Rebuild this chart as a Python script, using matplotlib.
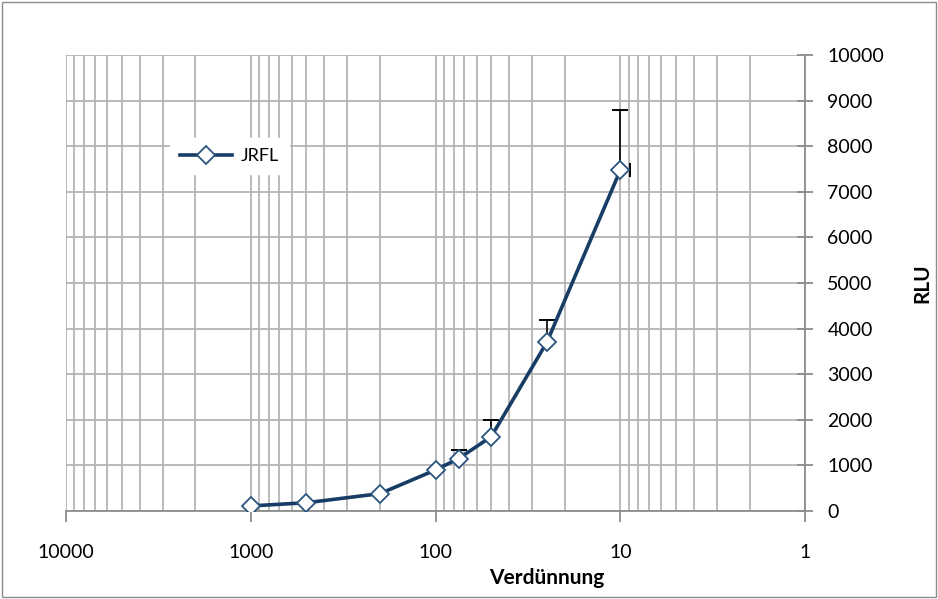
import numpy as np
import matplotlib
matplotlib.use("Agg")
import matplotlib.pyplot as plt
from matplotlib.ticker import LogLocator, FixedLocator, NullFormatter, FixedFormatter

# data
dilution = [1000, 500, 200, 100, 75, 50, 25, 10]
rlu = [110, 180, 380, 900, 1150, 1630, 3700, 7480]
err_up = [0, 0, 0, 0, 190, 370, 490, 1310]
xerr_minus = [0, 0, 0, 0, 0, 0, 0, 1.1]  # small horizontal bar on the last point
series_name = "JRFL"
x_ticks = [10000, 1000, 100, 10, 1]
x_labels = ["10000", "1000", "100", "10", "1"]
y_ticks = list(range(0, 10001, 1000))

plt.rcParams['font.family'] = ['Lato', 'DejaVu Sans']

fig = plt.figure(figsize=(9.38, 5.99), dpi=100)
fig.patch.set_facecolor("white")
# chart-area frame
fig.patches.append(plt.Rectangle((0.002, 0.003), 0.996, 0.994, transform=fig.transFigure,
                                 fill=False, edgecolor="#8c8c8c", linewidth=1.0))

ax = fig.add_axes([0.0704, 0.147, 0.788, 0.761])
grid_col = "#b4b4b4"

zeros = np.zeros(len(err_up))
ax.errorbar(dilution, rlu, yerr=[zeros, err_up], fmt="none", ecolor="black",
            elinewidth=1.2, capsize=6, capthick=1.4, zorder=3)
# axis is reversed, so the lower x error is drawn to the right
ax.errorbar(dilution, rlu, xerr=[xerr_minus, zeros], fmt="none",
            ecolor="black", elinewidth=1.2, capsize=5, capthick=1.4, zorder=3)
ax.plot(dilution, rlu, color="#173d66", linewidth=2.6, marker="D", markersize=9,
        markerfacecolor="white", markeredgecolor="#2b557f", markeredgewidth=1.3,
        label=series_name, zorder=4)

ax.set_xscale("log")
ax.set_xlim(10000, 1)
ax.set_ylim(0, 10000)

ax.xaxis.set_major_locator(FixedLocator(x_ticks))
ax.xaxis.set_major_formatter(FixedFormatter(x_labels))
ax.xaxis.set_minor_locator(LogLocator(base=10, subs=np.arange(2, 10)))
ax.xaxis.set_minor_formatter(NullFormatter())
ax.set_yticks(y_ticks)

ax.yaxis.tick_right()
ax.yaxis.set_label_position("right")

ax.grid(True, which="major", color=grid_col, linewidth=1.3)
ax.grid(True, which="minor", axis="x", color=grid_col, linewidth=1.3)
ax.set_axisbelow(True)

for s in ["top", "left"]:
    ax.spines[s].set_visible(False)
for s in ["bottom", "right"]:
    ax.spines[s].set_color("#8c8c8c")
    ax.spines[s].set_linewidth(1.3)

ax.tick_params(axis="x", which="major", direction="out", length=8, width=1.3,
               color="#8c8c8c", labelsize=14, pad=16)
ax.tick_params(axis="x", which="minor", direction="inout", length=0)
ax.tick_params(axis="y", which="major", direction="inout", length=12, width=1.3,
               color="#8c8c8c", labelsize=14, pad=10)

ax.set_xlabel("Verdünnung", fontsize=15, fontweight="bold", labelpad=2)
ax.set_ylabel("RLU", fontsize=15, fontweight="bold")
ax.xaxis.set_label_coords(0.65, -0.125)
ax.yaxis.set_label_coords(1.145, 0.5)

leg = ax.legend(loc="upper left", bbox_to_anchor=(0.128, 0.838), frameon=True,
                fontsize=13, handlelength=2.9, handletextpad=0.5, borderpad=0.55)
leg.get_frame().set_facecolor("white")
leg.get_frame().set_edgecolor("white")
leg.get_frame().set_alpha(1.0)

fig.savefig("out.png", dpi=100)
